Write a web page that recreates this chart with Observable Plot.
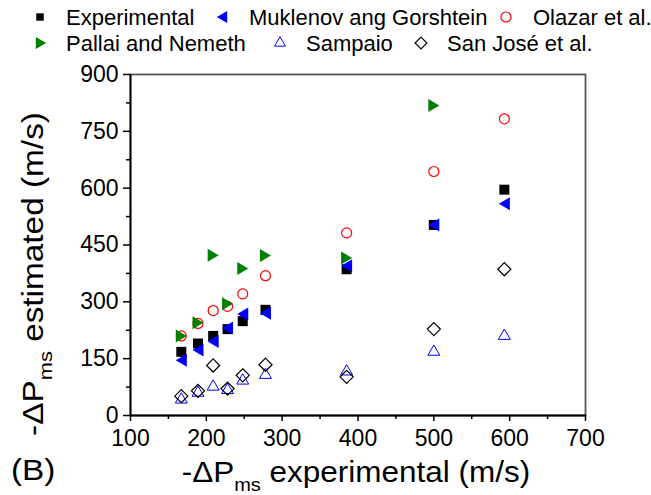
<!DOCTYPE html>
<html><head><meta charset="utf-8">
<script src="https://cdn.jsdelivr.net/npm/d3@7"></script>
<script src="https://cdn.jsdelivr.net/npm/@observablehq/plot@0.6"></script>
<style>
body{margin:0;background:#fff;font-family:"Liberation Sans",Arial,sans-serif;}
#wrap{position:relative;width:651px;height:495px;overflow:hidden;}
#legend{position:absolute;left:0;top:0;}
#chart{position:absolute;left:0;top:60px;}
</style></head><body>
<div id="wrap"><svg id="legend" width="651" height="60"></svg><div id="chart"></div></div>
<script>
const series = ["Experimental","Muklenov ang Gorshtein","Olazar et al.","Pallai and Nemeth","Sampaio","San José et al."];
const xValues = [167,189,209,228,248,278,385,500,593];
const experimental = [168,190,210,228,249,279,386,503,596];
const muklenov = [146,173,195,231,268,270,395,503,559];
const olazar = [210,243,277,288,321,369,482,644,783];
const pallai = [210,245,423,295,388,422,416,818];
const sampaio = [42,60,76,67,92,107,116,168,210];
const sanJose = [51,65,132,71,106,134,102,228,386];
const xTicks = [100,200,300,400,500,600,700];
const xMinor = [150,250,350,450,550,650];
const yTicks = [0,150,300,450,600,750,900];
const yMinor = [75,225,375,525,675,825];

const leftTri = {draw(ctx, size){const s=Math.sqrt(size);const hw=s*0.55,hh=s*0.65;ctx.moveTo(-hw,0);ctx.lineTo(hw,-hh);ctx.lineTo(hw,hh);ctx.closePath();}};
const rightTri = {draw(ctx, size){const s=Math.sqrt(size);const hw=s*0.55,hh=s*0.65;ctx.moveTo(hw,0);ctx.lineTo(-hw,-hh);ctx.lineTo(-hw,hh);ctx.closePath();}};

const styles = [
  {values: experimental, symbol: "square", r: 5.64, lr: 4.2, fill: "#000", stroke: "none", strokeWidth: 0},
  {values: muklenov, symbol: leftTri, r: 5.64, lr: 5.3, fill: "#0000ff", stroke: "none", strokeWidth: 0},
  {values: olazar, symbol: "circle", r: 5, lr: 5, fill: "none", stroke: "#ff0000", strokeWidth: 1.2},
  {values: pallai, symbol: rightTri, r: 5.64, lr: 5.3, fill: "#008000", stroke: "none", strokeWidth: 0},
  {values: sampaio, symbol: "triangle2", r: 5.7, lr: 5.2, fill: "none", stroke: "#0000ff", strokeWidth: 1},
  {values: sanJose, symbol: "diamond2", r: 5.9, lr: 5.3, fill: "none", stroke: "#000", strokeWidth: 1.2}
];
const rows = styles.map((s, i) => s.values.map((v, j) => ({series: series[i], x: xValues[j], y: v})));

const chart = Plot.plot({
  width: 651, height: 435,
  marginTop: 14, marginLeft: 130, marginRight: 66, marginBottom: 80,
  x: {domain: [100, 700]}, y: {domain: [0, 900]},
  style: {fontFamily: "'Liberation Sans', Arial, sans-serif", fontSize: "23px", color: "#000", background: "#fff", overflow: "visible"},
  marks: [
    Plot.frame({stroke: "#555", strokeWidth: 1.8}),
    Plot.axisX({ticks: xTicks, tickSize: 6, tickPadding: 8, strokeWidth: 1.5, label: null, fontSize: 23}),
    Plot.axisX({ticks: xMinor, tickSize: 4, strokeWidth: 1.5, label: null, tickFormat: () => ""}),
    Plot.axisY({ticks: yTicks, tickSize: 7, tickPadding: 5, strokeWidth: 1.5, label: null, fontSize: 23}),
    Plot.axisY({ticks: yMinor, tickSize: 4, strokeWidth: 1.5, label: null, tickFormat: () => ""}),
    Plot.ruleX([100], {stroke: "#000", strokeWidth: 1.8}),
    Plot.ruleY([0], {stroke: "#000", strokeWidth: 1.8}),
    ...styles.map((s, i) => Plot.dot(rows[i], {x: "x", y: "y", symbol: s.symbol, r: s.r, fill: s.fill, stroke: s.stroke, strokeWidth: s.strokeWidth}))
  ]
});
document.getElementById("chart").appendChild(chart);

const svg = d3.select(chart);
const font = "'Liberation Sans', Arial, sans-serif";
// y title
const yt = svg.append("text").attr("transform", "translate(43,214) rotate(-90) scale(1.15,1)").attr("text-anchor", "middle")
  .style("font-family", font).style("font-size", "29px").attr("fill", "#000");
yt.append("tspan").text("-ΔP");
yt.append("tspan").attr("font-size", "19px").attr("dy", "0.45em").text("ms");
yt.append("tspan").attr("dy", "-0.29em").text(" estimated (m/s)");
// x title
const xt = svg.append("text").attr("transform", "translate(356,422) scale(1.05,1)").attr("text-anchor", "middle")
  .style("font-family", font).style("font-size", "30px").attr("fill", "#000");
xt.append("tspan").text("-ΔP");
xt.append("tspan").attr("font-size", "19px").attr("dy", "0.45em").text("ms");
xt.append("tspan").attr("dy", "-0.29em").text(" experimental (m/s)");
svg.append("text").attr("transform", "translate(11,420) scale(1.15,1)").attr("text-anchor", "start")
  .style("font-family", font).style("font-size", "29px").attr("fill", "#000").text("(B)");

// legend
const leg = d3.select("#legend");
const items = [
  {i: 0, sx: 40, tx: 66, y: 17},
  {i: 1, sx: 222, tx: 249, y: 17},
  {i: 2, sx: 506, tx: 533, y: 17},
  {i: 3, sx: 41, tx: 66, y: 43},
  {i: 4, sx: 280, tx: 306, y: 43},
  {i: 5, sx: 421, tx: 447, y: 43}
];
for (const it of items) {
  const s = styles[it.i];
  const symType = typeof s.symbol === "string" ? {square: d3.symbolSquare, circle: d3.symbolCircle, triangle2: d3.symbolTriangle2, diamond2: d3.symbolDiamond2}[s.symbol] : s.symbol;
  const r = s.lr;
  leg.append("path").attr("d", d3.symbol(symType, r * r * Math.PI)()).attr("transform", `translate(${it.sx},${it.y})`)
    .attr("fill", s.fill).attr("stroke", s.stroke).attr("stroke-width", s.strokeWidth);
  leg.append("text").attr("x", it.tx).attr("y", it.y).attr("dy", "0.36em").style("font-family", font).style("font-size", "22px").attr("fill", "#000").text(series[it.i]);
}
</script>
</body></html>
